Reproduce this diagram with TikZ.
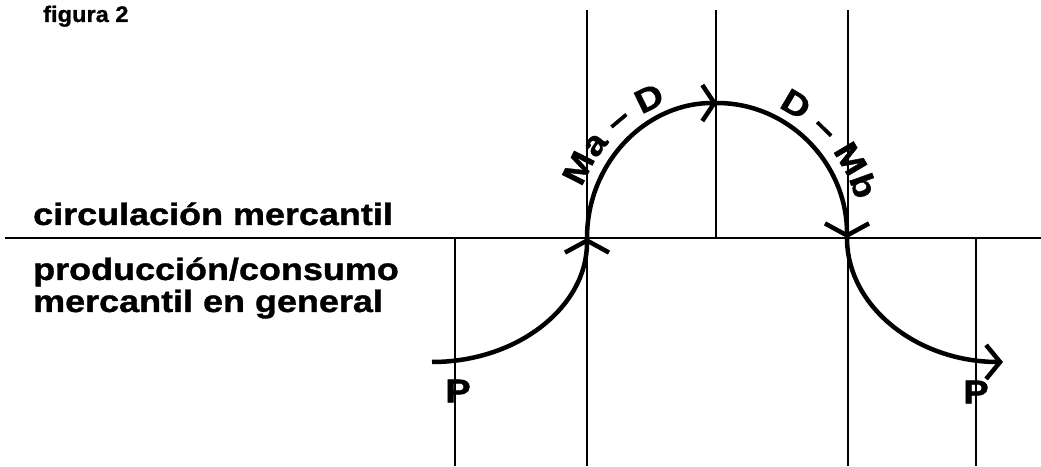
\documentclass[tikz,border=0pt]{standalone}
\usepackage{fontspec}
\usepackage{tikz}
\usetikzlibrary{arrows.meta, decorations.text, positioning}
\newfontfamily\labelfont{Liberation Sans}[FakeStretch=1.16, BoldFeatures={FakeBold=1.2}]
\newfontfamily\titlefont{Liberation Sans}[FakeStretch=1.05, BoldFeatures={FakeBold=1}]
\newcommand{\planefont}{\labelfont\bfseries\fontsize{31}{34}\selectfont}
\newcommand{\cyclefont}{\labelfont\bfseries\fontsize{33}{36}\selectfont}
\tikzset{
    gridline/.style={line width=2pt},
    planeline/.style={line width=2.5pt},
    cyclepath/.style={line width=4.5pt},
    upchevron/.style={cyclepath, -{Straight Barb[length=12pt, width=44pt]}},
    topchevron/.style={cyclepath, -{Straight Barb[length=12pt, width=36pt]}},
    endarrow/.style={cyclepath, -{Straight Barb[length=14pt, width=34pt]}},
    planelabel/.style={anchor=base west, inner sep=0pt, font=\planefont},
    pointlabel/.style={inner sep=0pt, font=\cyclefont}
}
\begin{document}
\begin{tikzpicture}[x=1pt, y=1pt]
    \useasboundingbox (0,0) rectangle (1041,466);

    % the two planes and the vertical guides
    \draw[planeline] (5,228) -- (1041,228);
    \draw[gridline] (455,0) -- (455,228);
    \draw[gridline] (587,0) -- (587,456);
    \draw[gridline] (716,228) -- (716,456);
    \draw[gridline] (848,0) -- (848,456);
    \draw[gridline] (976,0) -- (976,228);

    \node[anchor=base west, inner sep=0pt, font=\titlefont\bfseries\fontsize{22.5}{24}\selectfont] (title) at (43,444) {figura 2};
    \node[planelabel] (circ) at (33,241) {circulación mercantil};
    \node[planelabel] (prod) at (33,186) {producción/consumo};
    \node[planelabel] (gen) at (33,154) {mercantil en general};

    % points of the cycle
    \coordinate (p) at (432,104);
    \coordinate (ma) at (587,228);
    \coordinate (d) at (717,363);
    \coordinate (mb) at (847,228);
    \coordinate (pp) at (1003,104);
    \coordinate (arcc) at (717,228);

    \draw[upchevron] (p) .. controls +(86,0) and +(0,-68.5) .. (ma);
    \draw[topchevron] (ma) .. controls +(0,74.6) and +(-71.8,0) .. (d);
    \draw[upchevron] (d) .. controls +(71.8,0) and +(0,74.6) .. (mb);
    \draw[endarrow] (mb) .. controls +(0,-68.5) and +(-86,0) .. (pp);

    \path[decorate, decoration={text along path, text={|\cyclefont|Ma – D}, text align=center}]
        ([shift={(175:144)}]arcc) arc[start angle=175, end angle=95, radius=144];
    \path[decorate, decoration={text along path, text={|\cyclefont|D – Mb}, text align=center}]
        ([shift={(80:144)}]arcc) arc[start angle=80, end angle=0, radius=144];

    \node[pointlabel] (plabel) at (458,75) {P};
    \node[pointlabel] (pplabel) at (976,74) {P};
\end{tikzpicture}
\end{document}
